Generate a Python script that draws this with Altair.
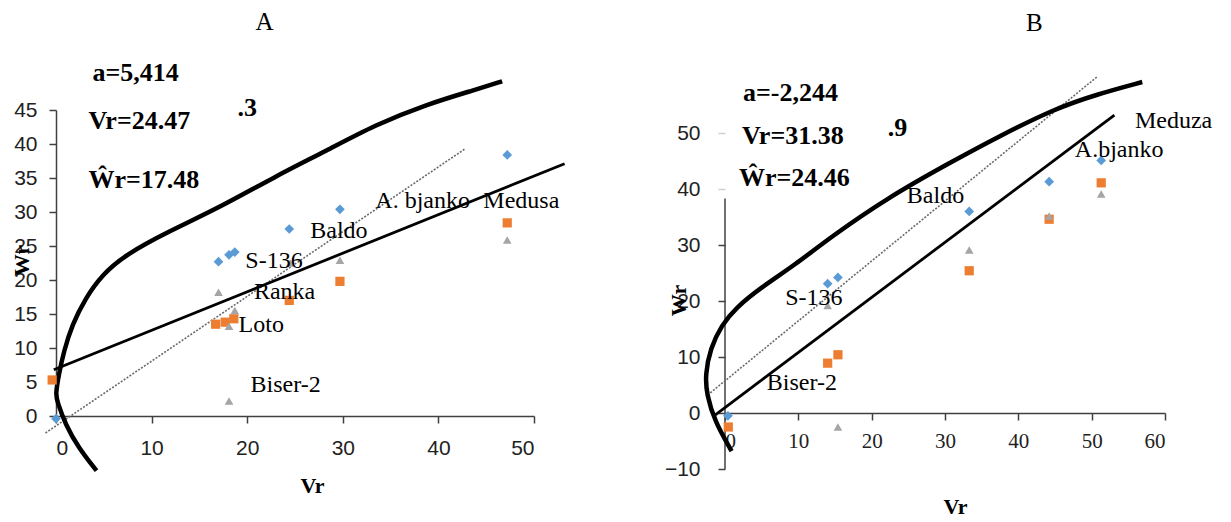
import altair as alt
import pandas as pd

SERIF = "Liberation Serif"
SANS = "Liberation Sans"
BLUE, ORANGE, GRAY = "#5B9BD5", "#ED7D31", "#A5A5A5"

# ---------------- Panel A ----------------
A_BLUE_VR = [0.0, 17.0, 18.1, 18.7, 24.4, 29.7, 47.2]
A_BLUE_WR = [-0.4, 22.7, 23.7, 24.1, 27.5, 30.4, 38.4]
A_ORANGE_VR = [-0.4, 16.7, 17.7, 18.6, 24.4, 29.7, 47.2]
A_ORANGE_WR = [5.3, 13.5, 13.8, 14.3, 17.0, 19.8, 28.4]
A_GRAY_VR = [17.0, 18.1, 18.7, 18.1, 24.5, 29.7, 47.2]
A_GRAY_WR = [18.2, 13.2, 15.5, 2.2, 22.5, 22.9, 25.9]

A_PARABOLA_VR = [4.24, 2.38, 0.99, 0.13, -0.05, 0.29, 0.82, 1.69, 3.09, 4.83,
                 7.27, 11.8, 17.03, 22.96, 28.19, 33.42, 38.65, 43.88, 46.67]
A_PARABOLA_WR = [-8.04, -4.71, -1.28, 2.16, 3.13, 6.07, 9.51, 13.43, 17.35, 20.78,
                 23.72, 27.16, 30.59, 35.25, 38.93, 42.84, 45.78, 47.99, 49.22]
A_REG_VR = [-0.23, 53.2]
A_REG_WR = [6.8, 37.1]
A_DOT_VR = [-1.1, 42.8]
A_DOT_WR = [-2.5, 39.3]

A_LABELS = ["A. bjanko", "Medusa", "Baldo", "S-136", "Ranka", "Loto", "Biser-2"]
A_LABEL_VR = [33.4, 44.7, 26.6, 19.8, 20.7, 19.1, 20.35]
A_LABEL_WR = [31.6, 31.6, 27.2, 22.8, 18.2, 13.4, 4.6]
A_NOTES = ["a=5,414", "Vr=24.47", "Ŵr=17.48", ".3"]
A_NOTE_VR = [3.82, 3.40, 3.40, 18.99]
A_NOTE_WR = [50.4, 43.4, 34.7, 45.3]
A_TITLE, A_TITLE_VR, A_TITLE_WR = "A", 21.8, 57.9
A_XTICKS = [0, 10, 20, 30, 40, 50]
A_YTICKS = [0, 5, 10, 15, 20, 25, 30, 35, 40, 45]

# ---------------- Panel B ----------------
B_BLUE_VR = [0.4, 14.0, 15.4, 33.3, 44.2, 51.3]
B_BLUE_WR = [-0.5, 23.1, 24.2, 36.0, 41.3, 45.1]
B_ORANGE_VR = [0.45, 14.0, 15.4, 33.3, 44.2, 51.3]
B_ORANGE_WR = [-2.5, 8.9, 10.4, 25.4, 34.6, 41.1]
B_GRAY_VR = [14.0, 15.4, 33.3, 44.2, 51.3]
B_GRAY_WR = [19.2, -2.5, 29.1, 35.2, 39.1]

B_PARABOLA_VR = [0.9, -1.4, -2.5, -2.7, -2.0, -0.45, 1.4, 5.0, 9.5, 14.5,
                 22.0, 30.8, 37.5, 44.9, 50.7, 56.9]
B_PARABOLA_WR = [-6.8, -1.5, 3.3, 6.8, 11.6, 15.7, 18.7, 22.5, 26.4, 31.5,
                 38.3, 44.8, 49.5, 54.3, 56.9, 59.1]
B_REG_VR = [-1.5, 53.1]
B_REG_WR = [-0.5, 53.2]
B_DOT_VR = [-2.0, 50.8]
B_DOT_WR = [3.6, 60.1]

B_LABELS = ["Meduza", "A.bjanko", "Baldo", "S-136", "Biser-2"]
B_LABEL_VR = [55.9, 47.7, 24.8, 8.2, 5.7]
B_LABEL_WR = [52.1, 47.0, 38.75, 20.5, 5.4]
B_NOTES = ["a=-2,244", "Vr=31.38", "Ŵr=24.46", ".9"]
B_NOTE_VR = [2.46, 2.32, 1.91, 22.2]
B_NOTE_WR = [57.1, 49.5, 42.0, 50.9]
B_TITLE, B_TITLE_VR, B_TITLE_WR = "B", 42.2, 69.6
B_XTICKS = [0, 10, 20, 30, 40, 50, 60]
B_YTICKS = [-10, 0, 10, 20, 30, 40, 50]
B_YAXIS_LINE = [-10, 38.3]


def df(xs, ys):
    return pd.DataFrame({"x": xs, "y": ys, "i": list(range(len(xs)))})


def panel(cfg):
    xsc = alt.Scale(domain=cfg["xdom"], nice=False, zero=False)
    ysc = alt.Scale(domain=cfg["ydom"], nice=False, zero=False)
    xn = alt.X("x:Q", scale=xsc, axis=cfg["xaxis"])
    yn = alt.Y("y:Q", scale=ysc, axis=cfg["yaxis"])

    dot = alt.Chart(df(cfg["dot"][0], cfg["dot"][1])).mark_line(
        clip=False, strokeWidth=1.6, strokeDash=[2, 1.5], color="#6a6a6a"
    ).encode(x=xn, y=yn)
    reg = alt.Chart(df(*cfg["reg"])).mark_line(
        clip=False, strokeWidth=2.8, color="black"
    ).encode(x=xn, y=yn)
    par = alt.Chart(df(*cfg["par"])).mark_line(
        clip=False, strokeWidth=4.5, color="black", interpolate="basis"
    ).encode(x=xn, y=yn, order="i:Q")

    blue = alt.Chart(df(*cfg["blue"])).mark_point(
        shape="diamond", filled=True, size=95, color=BLUE, opacity=1, clip=False
    ).encode(x=xn, y=yn)
    orange = alt.Chart(df(*cfg["orange"])).mark_point(
        shape="square", filled=True, size=85, color=ORANGE, opacity=1, clip=False
    ).encode(x=xn, y=yn)
    gray = alt.Chart(df(*cfg["gray"])).mark_point(
        shape="triangle-up", filled=True, size=75, color=GRAY, opacity=1, clip=False
    ).encode(x=xn, y=yn)

    lab = pd.DataFrame({"x": cfg["labx"], "y": cfg["laby"], "t": cfg["labels"]})
    labels = alt.Chart(lab).mark_text(
        font=SERIF, fontSize=24, align="left", baseline="middle", color="black"
    ).encode(x=xn, y=yn, text="t:N")

    nt = pd.DataFrame({"x": cfg["notex"], "y": cfg["notey"], "t": cfg["notes"]})
    notes = alt.Chart(nt).mark_text(
        font=SERIF, fontSize=26, fontWeight="bold", align="left",
        baseline="middle", color="black"
    ).encode(x=xn, y=yn, text="t:N")

    tt = pd.DataFrame({"x": [cfg["title"][1]], "y": [cfg["title"][2]], "t": [cfg["title"][0]]})
    title = alt.Chart(tt).mark_text(
        font=SERIF, fontSize=25, align="center", baseline="middle", color="black"
    ).encode(x=xn, y=yn, text="t:N")

    layers = [dot, reg, par, blue, orange, gray, labels, notes, title]
    if cfg.get("yline"):
        yl = pd.DataFrame({"x": [0], "y": [cfg["yline"][0]], "y2": [cfg["yline"][1]]})
        layers.insert(0, alt.Chart(yl).mark_rule(color="#404040", strokeWidth=1.5).encode(
            x=xn, y=yn, y2="y2:Q"))
    return alt.layer(*layers).properties(width=cfg["w"], height=cfg["h"])


axis_common = dict(grid=False, tickWidth=1.5, tickSize=7,
                   domainColor="#404040", domainWidth=1.5, labelColor="#222222",
                   titleFont=SERIF, titleFontSize=22, titleFontWeight="bold",
                   titleColor="black", titleBaseline="middle")

A_cfg = dict(
    xdom=[0, 50], ydom=[0, 45], w=478, h=306,
    xaxis=alt.Axis(values=A_XTICKS, title="Vr", labelFont=SANS, labelFontSize=21,
                   labelPadding=14, titleX=256, titleY=69, titleAngle=0,
                   tickColor="#404040", **axis_common),
    yaxis=alt.Axis(values=A_YTICKS, title="Wr", labelFont=SANS, labelFontSize=21,
                   labelPadding=12, titleX=-35, titleY=150, titleAngle=270,
                   tickColor="#404040", **axis_common),
    dot=(A_DOT_VR, A_DOT_WR), reg=(A_REG_VR, A_REG_WR), par=(A_PARABOLA_VR, A_PARABOLA_WR),
    blue=(A_BLUE_VR, A_BLUE_WR), orange=(A_ORANGE_VR, A_ORANGE_WR), gray=(A_GRAY_VR, A_GRAY_WR),
    labels=A_LABELS, labx=A_LABEL_VR, laby=A_LABEL_WR,
    notes=A_NOTES, notex=A_NOTE_VR, notey=A_NOTE_WR,
    title=(A_TITLE, A_TITLE_VR, A_TITLE_WR),
)

B_YMAX = -10 + 359 / 5.6
B_cfg = dict(
    xdom=[0, 60], ydom=[-10, B_YMAX], w=440, h=359,
    xaxis=alt.Axis(values=B_XTICKS, title="Vr", labelFont=SERIF, labelFontSize=21,
                   labelPadding=10, offset=-56, titleX=230, titleY=93, titleAngle=0,
                   tickColor="#404040", **axis_common),
    yaxis=alt.Axis(values=B_YTICKS, title="Wr", labelFont=SANS, labelFontSize=21,
                   labelPadding=18, titleX=-47, titleY=190, titleAngle=270,
                   domain=False,
                   tickColor={"condition": {"test": "datum.value >= 40", "value": "#d0d0d0"},
                              "value": "#404040"},
                   **axis_common),
    dot=(B_DOT_VR, B_DOT_WR), reg=(B_REG_VR, B_REG_WR), par=(B_PARABOLA_VR, B_PARABOLA_WR),
    blue=(B_BLUE_VR, B_BLUE_WR), orange=(B_ORANGE_VR, B_ORANGE_WR), gray=(B_GRAY_VR, B_GRAY_WR),
    labels=B_LABELS, labx=B_LABEL_VR, laby=B_LABEL_WR,
    notes=B_NOTES, notex=B_NOTE_VR, notey=B_NOTE_WR,
    title=(B_TITLE, B_TITLE_VR, B_TITLE_WR),
    yline=B_YAXIS_LINE,
)

chart = alt.hconcat(panel(A_cfg), panel(B_cfg), spacing=191, bounds="flush").properties(
    padding={"left": 2, "top": 2, "right": 0, "bottom": 0},
    background="white",
).configure_view(stroke=None)

chart.save("out.html", embed_options={"renderer": "svg", "actions": False})
